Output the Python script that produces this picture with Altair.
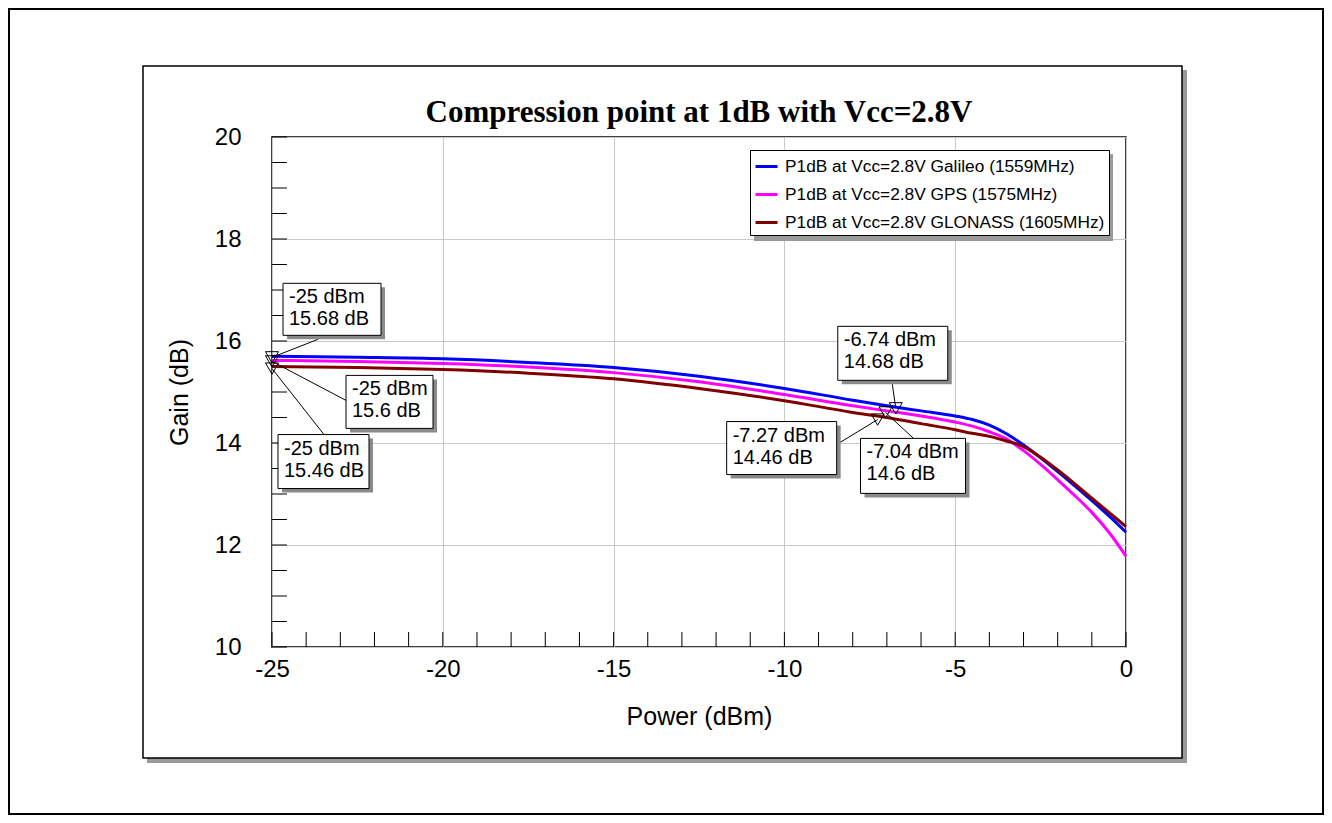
import altair as alt
import pandas as pd

# ---------------- data ----------------
power = [-25, -22.5, -20, -17.5, -15, -12.5, -10, -8, -7, -6, -5, -4.5, -4,
         -3.5, -3, -2.5, -2, -1.5, -1, -0.5, 0]
gain_galileo = [15.70, 15.68, 15.65, 15.58, 15.48, 15.31, 15.07, 14.84, 14.73,
                14.63, 14.53, 14.46, 14.35, 14.18, 13.96, 13.71, 13.44, 13.16,
                12.87, 12.57, 12.25]
gain_gps = [15.62, 15.60, 15.56, 15.49, 15.38, 15.20, 14.95, 14.73, 14.63,
            14.53, 14.41, 14.33, 14.22, 14.08, 13.85, 13.58, 13.28, 12.97,
            12.64, 12.25, 11.78]
gain_glonass = [15.50, 15.48, 15.44, 15.37, 15.26, 15.07, 14.83, 14.60, 14.50,
                14.38, 14.26, 14.19, 14.13, 14.04, 13.93, 13.72, 13.47, 13.20,
                12.92, 12.64, 12.36]
series_names = ["P1dB at Vcc=2.8V Galileo (1559MHz)",
                "P1dB at Vcc=2.8V GPS (1575MHz)",
                "P1dB at Vcc=2.8V GLONASS (1605MHz)"]
series_colors = ["#0000ff", "#ff00ff", "#800000"]

marker_power = [-25, -25, -25, -6.74, -7.27, -7.04]
marker_gain = [15.68, 15.6, 15.46, 14.68, 14.46, 14.6]

x_major = [-25, -20, -15, -10, -5, 0]
y_major = [10, 12, 14, 16, 18, 20]
x_minor = list(range(-25, 1))
y_minor = [10 + 0.5 * i for i in range(21)]

title_text = "Compression point at 1dB with Vcc=2.8V"
x_title = "Power (dBm)"
y_title = "Gain (dB)"

# ---------------- layout (pixels) ----------------
W, H = 854, 510
PAD_L, PAD_T, PAD_R, PAD_B = 264, 129, 198, 168
# annotation box geometry relative to marker: (x1, x2, y1, y2, leader_x, leader_y)
box_layout = [
    (11, 109, -74, -22, 46, -18),
    (74, 161, 14, 67, 74, 39),
    (6, 97, 66, 120, 52, 66),
    (-58, 52, -82, -28, -4, -28),
    (-151, -41, 2, 55, -41, 25),
    (-25, 80, 26, 81, 28, 26),
]
SH = 4  # shadow offset
FONT = "Liberation Sans"

x_scale = alt.Scale(domain=[-25, 0], nice=False, zero=False)
y_scale = alt.Scale(domain=[10, 20], nice=False, zero=False)
x_axis = alt.Axis(values=x_major, labelFlush=False, labelPadding=10, titlePadding=23,
                  labelExpr="'' + datum.value")
y_axis = alt.Axis(values=y_major, labelPadding=31, titlePadding=22,
                  labelExpr="'' + datum.value")


def X(field="power:Q"):
    return alt.X(field, scale=x_scale, axis=x_axis, title=x_title)


def Y(field="gain:Q"):
    return alt.Y(field, scale=y_scale, axis=y_axis, title=y_title)


rows = []
for name, gains in zip(series_names, [gain_galileo, gain_gps, gain_glonass]):
    for p, g in zip(power, gains):
        rows.append({"series": name, "power": p, "gain": g})
curves = pd.DataFrame(rows)

one = alt.Data(values=[{"a": 1}])


def deco_rect(x1, x2, y1, y2, **kw):
    return alt.Chart(one).mark_rect(**kw).encode(
        x=alt.value(x1), x2=alt.value(x2), y=alt.value(y1), y2=alt.value(y2))


layers = []

lines = alt.Chart(curves).mark_line(strokeWidth=3, interpolate="monotone").encode(
    x=X(), y=Y(),
    color=alt.Color("series:N",
                    scale=alt.Scale(domain=series_names, range=series_colors),
                    legend=alt.Legend(orient="none", legendX=478, legendY=13, title=None,
                                      symbolType="stroke", symbolStrokeWidth=3,
                                      symbolSize=484, labelFontSize=17.3, labelFont=FONT,
                                      labelColor="black", labelLimit=500,
                                      fillColor="white", strokeColor="black",
                                      padding=4, rowPadding=7, labelOffset=6)),
)

# outer page frame and inner panel frame with shadow
layers.append(deco_rect(-263, 1051, -128, 677, fillOpacity=0, stroke="black", strokeWidth=2))
layers.append(deco_rect(910, 915, -67, 626, color="#9a9a9a"))
layers.append(deco_rect(-125, 915, 621, 626, color="#9a9a9a"))
layers.append(deco_rect(-129, 910, -71, 621, fillOpacity=0, stroke="black", strokeWidth=1.5))

# legend shadow
layers.append(deco_rect(482, 841, 17, 104, color="#9a9a9a"))

# inner minor ticks
layers.append(alt.Chart(pd.DataFrame({"power": x_minor})).mark_rule(color="black", strokeWidth=1).encode(
    x=X(), y=alt.value(H), y2=alt.value(H - 15)))
layers.append(alt.Chart(pd.DataFrame({"gain": y_minor})).mark_rule(color="black", strokeWidth=1).encode(
    y=Y(), x=alt.value(0), x2=alt.value(15)))

layers.append(lines)

# annotations
for i, (mp, mg) in enumerate(zip(marker_power, marker_gain)):
    x1, x2, y1, y2, lx, ly = box_layout[i]
    d = pd.DataFrame({"power": [mp], "gain": [mg],
                      "label": [f"{mp:g} dBm\n{mg:g} dB"]})
    base = alt.Chart(d)
    enc = dict(x=X(), y=Y())
    enc2 = dict(enc, x2="power:Q", y2="gain:Q")
    layers.append(base.mark_rule(color="black", strokeWidth=1, x2Offset=lx, y2Offset=ly).encode(**enc2))
    layers.append(base.mark_rect(color="#8a8a8a", xOffset=x1 + SH, x2Offset=x2 + SH,
                                 yOffset=y1 + SH, y2Offset=y2 + SH).encode(**enc2))
    layers.append(base.mark_rect(fill="white", stroke="black", strokeWidth=1,
                                 xOffset=x1, x2Offset=x2, yOffset=y1, y2Offset=y2).encode(**enc2))
    layers.append(base.mark_text(align="left", baseline="top", lineBreak="\n", fontSize=20,
                                 lineHeight=22, font=FONT, color="black",
                                 xOffset=x1 + 6, yOffset=y1 + 4).encode(text="label:N", **enc))
    layers.append(base.mark_point(shape="triangle-down", filled=False, stroke="black",
                                  strokeWidth=1, size=170, opacity=1).encode(**enc))

# title
layers.append(alt.Chart(one).mark_text(text=title_text, font="Liberation Serif", fontWeight="bold",
                                       fontSize=31, color="black", align="center",
                                       baseline="alphabetic").encode(
    x=alt.value(W / 2), y=alt.value(-15)))

chart = alt.layer(*layers).properties(
    width=W, height=H,
    autosize=alt.AutoSizeParams(type="none"),
    padding={"left": PAD_L, "top": PAD_T, "right": PAD_R, "bottom": PAD_B},
).configure_view(stroke="black", strokeWidth=1.5).configure_axis(
    labelFont=FONT, labelFontSize=24, labelColor="black",
    titleFont=FONT, titleFontSize=25, titleFontWeight="normal", titleColor="black",
    ticks=False, tickSize=0, domain=False, grid=True, gridColor="#c8c8c8", gridWidth=1,
)

chart.save("out.html", embed_options={"renderer": "svg", "actions": False})
